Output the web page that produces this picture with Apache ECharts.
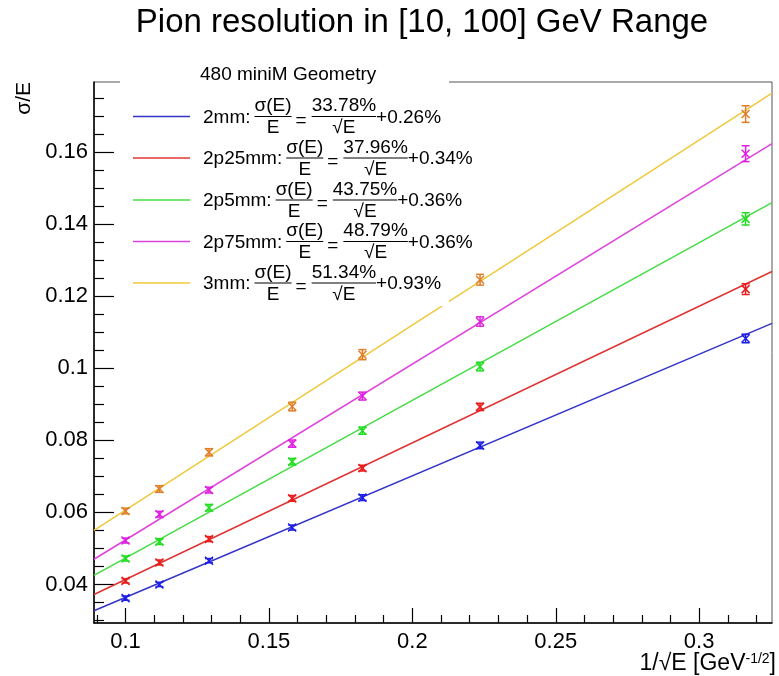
<!DOCTYPE html>
<html>
<head>
<meta charset="utf-8">
<script src="https://cdn.jsdelivr.net/npm/echarts@6/dist/echarts.min.js"></script>
<style>
html,body{margin:0;padding:0;background:#fff;}
#chart{width:779px;height:676px;}
</style>
</head>
<body>
<div id="chart"></div>
<script>
// ---------- data ----------
const xVals = [0.1, 0.1118, 0.1291, 0.1581, 0.1826, 0.2236, 0.3162];

const y2mm   = [0.0362, 0.0400, 0.0466, 0.0558, 0.0641, 0.0786, 0.1083];
const e2mm   = [0.0006, 0.0006, 0.0006, 0.0007, 0.0008, 0.0009, 0.0012];
const y2p25  = [0.0410, 0.0461, 0.0526, 0.0639, 0.0723, 0.0893, 0.1220];
const e2p25  = [0.0006, 0.0007, 0.0007, 0.0008, 0.0008, 0.0010, 0.0015];
const y2p5   = [0.0472, 0.0519, 0.0613, 0.0741, 0.0827, 0.1005, 0.1415];
const e2p5   = [0.0007, 0.0008, 0.0009, 0.0009, 0.0010, 0.0012, 0.0017];
const y2p75  = [0.0522, 0.0595, 0.0662, 0.0791, 0.0923, 0.1130, 0.1596];
const e2p75  = [0.0007, 0.0008, 0.0008, 0.0010, 0.0011, 0.0013, 0.0022];
const y3mm   = [0.0604, 0.0665, 0.0767, 0.0894, 0.1038, 0.1246, 0.1706];
const e3mm   = [0.0008, 0.0009, 0.0010, 0.0012, 0.0014, 0.0015, 0.0023];

// fit line end points
const fit2mm  = [[0.089, 0.0327], [0.3254, 0.1125]];
const fit2p25 = [[0.089, 0.0372], [0.3254, 0.1269]];
const fit2p5  = [[0.089, 0.0425], [0.3254, 0.1460]];
const fit2p75 = [[0.089, 0.0470], [0.3254, 0.1624]];
const fit3mm  = [[0.089, 0.0550], [0.3254, 0.1764]];

const seriesNames = ['2mm', '2p25mm', '2p5mm', '2p75mm', '3mm'];
const stochTerms  = ['33.78%', '37.96%', '43.75%', '48.79%', '51.34%'];
const constTerms  = ['0.26%', '0.34%', '0.36%', '0.36%', '0.93%'];

const xMajorTicks = [0.1, 0.15, 0.2, 0.25, 0.3];
const xMinorTicks = [0.09, 0.11, 0.12, 0.13, 0.14, 0.16, 0.17, 0.18, 0.19, 0.21, 0.22, 0.23, 0.24, 0.26, 0.27, 0.28, 0.29, 0.31, 0.32];
const yMajorTicks = [0.04, 0.06, 0.08, 0.1, 0.12, 0.14, 0.16];
const yMinorTicks = [0.03, 0.035, 0.045, 0.05, 0.055, 0.065, 0.07, 0.075, 0.085, 0.09, 0.095, 0.105, 0.11, 0.115, 0.125, 0.13, 0.135, 0.145, 0.15, 0.155, 0.165, 0.17, 0.175];

const xMin = 0.089, xMax = 0.3254, yMin = 0.0293, yMax = 0.1795;

// ---------- styles ----------
const FONT = '"Liberation Sans", Arial, Helvetica, sans-serif';
const lineColors   = ['#3434c8', '#e03434', '#44dd44', '#dd44dd', '#f0c83c'];
const markerColors = ['#1e1ee6', '#e81e1e', '#22dd22', '#e020e0', '#e07e2a'];

const yData = [y2mm, y2p25, y2p5, y2p75, y3mm];
const eData = [e2mm, e2p25, e2p5, e2p75, e3mm];
const fits  = [fit2mm, fit2p25, fit2p5, fit2p75, fit3mm];

const chart = echarts.init(document.getElementById('chart'), null, {renderer: 'canvas'});

const series = [];
fits.forEach((f, i) => {
  series.push({
    type: 'line', name: seriesNames[i], data: f, showSymbol: false, symbol: 'none',
    lineStyle: {color: lineColors[i], width: 1.5}, z: 2, silent: true, animation: false
  });
});
yData.forEach((ys, i) => {
  const d = ys.map((y, k) => [xVals[k], y, eData[i][k]]);
  const col = markerColors[i];
  series.push({
    type: 'custom', name: seriesNames[i] + ' pts', data: d, z: 3, silent: true, animation: false,
    encode: {x: 0, y: 1},
    renderItem: function (params, api) {
      const x = api.value(0), y = api.value(1), e = api.value(2);
      const p = api.coord([x, y]);
      const t = api.coord([x, y + e]);
      const b = api.coord([x, y - e]);
      const s = {stroke: col, lineWidth: 1.5};
      const h = 4, c = 4;
      return {
        type: 'group',
        children: [
          {type: 'line', shape: {x1: p[0], y1: t[1], x2: p[0], y2: b[1]}, style: s},
          {type: 'line', shape: {x1: p[0] - c, y1: t[1], x2: p[0] + c, y2: t[1]}, style: s},
          {type: 'line', shape: {x1: p[0] - c, y1: b[1], x2: p[0] + c, y2: b[1]}, style: s},
          {type: 'line', shape: {x1: p[0] - h, y1: p[1] - h, x2: p[0] + h, y2: p[1] + h}, style: s},
          {type: 'line', shape: {x1: p[0] - h, y1: p[1] + h, x2: p[0] + h, y2: p[1] - h}, style: s}
        ]
      };
    }
  });
});

// ---------- legend (graphic) ----------
const mctx = document.createElement('canvas').getContext('2d');
function meas(txt, size) { mctx.font = size + 'px ' + FONT; return mctx.measureText(txt).width; }

const LS = 19;
const graphic = [];
graphic.push({type: 'text', x: 422, y: 6, z: 51,
  style: {text: 'Pion resolution in [10, 100] GeV Range', font: '33px ' + FONT, fill: '#000', textAlign: 'center', textVerticalAlign: 'top'}});
graphic.push({type: 'rect', shape: {x: 120, y: 60, width: 329, height: 246}, style: {fill: '#fff'}, z: 50, silent: true});
graphic.push({type: 'text', x: 200, y: 75, z: 51, style: {text: '480 miniM Geometry', font: '19px ' + FONT, fill: '#000', textVerticalAlign: 'middle'}});
const rowY = [116.5, 158, 200, 241.5, 283];
seriesNames.forEach((nm, i) => {
  const cy = rowY[i];
  graphic.push({type: 'line', z: 51, shape: {x1: 133, y1: cy, x2: 190, y2: cy}, style: {stroke: lineColors[i], lineWidth: 1.5}});
  let x = 203;
  const lab = nm + ':';
  graphic.push({type: 'text', x: x, y: cy + 1, z: 51, style: {text: lab, font: LS + 'px ' + FONT, fill: '#000', textVerticalAlign: 'middle'}});
  x += meas(lab, LS) + 4;
  const wf = meas('σ(E)', LS);
  graphic.push({type: 'text', x: x + wf / 2, y: cy - 1, z: 51, style: {text: 'σ(E)', font: LS + 'px ' + FONT, fill: '#000', textAlign: 'center', textVerticalAlign: 'bottom'}});
  graphic.push({type: 'line', z: 51, shape: {x1: x, y1: cy, x2: x + wf, y2: cy}, style: {stroke: '#000', lineWidth: 1.2}});
  graphic.push({type: 'text', x: x + wf / 2, y: cy + 2, z: 51, style: {text: 'E', font: LS + 'px ' + FONT, fill: '#000', textAlign: 'center', textVerticalAlign: 'top'}});
  x += wf + 4;
  graphic.push({type: 'text', x: x, y: cy + 4, z: 51, style: {text: '=', font: LS + 'px ' + FONT, fill: '#000', textVerticalAlign: 'middle'}});
  x += meas('=', LS) + 5;
  const w2 = meas(stochTerms[i], LS);
  graphic.push({type: 'text', x: x + w2 / 2, y: cy - 1, z: 51, style: {text: stochTerms[i], font: LS + 'px ' + FONT, fill: '#000', textAlign: 'center', textVerticalAlign: 'bottom'}});
  graphic.push({type: 'line', z: 51, shape: {x1: x, y1: cy, x2: x + w2, y2: cy}, style: {stroke: '#000', lineWidth: 1.2}});
  graphic.push({type: 'text', x: x + w2 / 2, y: cy + 2, z: 51, style: {text: '√E', font: LS + 'px ' + FONT, fill: '#000', textAlign: 'center', textVerticalAlign: 'top'}});
  x += w2;
  graphic.push({type: 'text', x: x, y: cy + 1, z: 51, style: {text: '+' + constTerms[i], font: LS + 'px ' + FONT, fill: '#000', textVerticalAlign: 'middle'}});
});
// axis titles
graphic.push({type: 'text', x: 24, y: 82, rotation: Math.PI / 2, z: 51,
  style: {text: 'σ/E', font: '21px ' + FONT, fill: '#000', textAlign: 'right', textVerticalAlign: 'middle'}});
graphic.push({type: 'text', x: 776, y: 664, z: 51,
  style: {text: '{m|1/√E [GeV}{s|-1/2}{m|]}', textAlign: 'right', textVerticalAlign: 'middle',
    rich: {m: {fontSize: 23, fontFamily: FONT, color: '#000'},
           s: {fontSize: 14, fontFamily: FONT, color: '#000', verticalAlign: 'top', padding: [0, 0, 10, 0]}}}});

const axisBase = {
  type: 'value', splitLine: {show: false}, scale: true
};

const option = {
  animation: false,
  backgroundColor: '#fff',
  grid: {left: 94, right: 7, top: 82, bottom: 53, show: true, borderColor: '#555', borderWidth: 1},
  xAxis: [
    Object.assign({}, axisBase, {
      min: xMin, max: xMax, position: 'bottom',
      axisLine: {show: true, lineStyle: {color: '#000', width: 1.5}},
      axisTick: {show: true, inside: true, length: 15, customValues: xMajorTicks, lineStyle: {color: '#000', width: 1.2}},
      axisLabel: {show: true, customValues: xMajorTicks, fontSize: 22, margin: 8, color: '#000', fontFamily: FONT,
        formatter: v => String(+v.toFixed(3))}
    }),
    Object.assign({}, axisBase, {
      min: xMin, max: xMax, position: 'bottom',
      axisLine: {show: false},
      axisTick: {show: true, inside: true, length: 8, customValues: xMinorTicks, lineStyle: {color: '#000', width: 1.2}},
      axisLabel: {show: false}
    })
  ],
  yAxis: [
    Object.assign({}, axisBase, {
      min: yMin, max: yMax, position: 'left',
      axisLine: {show: true, lineStyle: {color: '#000', width: 1.5}},
      axisTick: {show: true, inside: true, length: 20, customValues: yMajorTicks, lineStyle: {color: '#000', width: 1.2}},
      axisLabel: {show: true, customValues: yMajorTicks, fontSize: 22, margin: 6, color: '#000', fontFamily: FONT,
        formatter: v => String(+v.toFixed(3))}
    }),
    Object.assign({}, axisBase, {
      min: yMin, max: yMax, position: 'left',
      axisLine: {show: false},
      axisTick: {show: true, inside: true, length: 10, customValues: yMinorTicks, lineStyle: {color: '#000', width: 1.2}},
      axisLabel: {show: false}
    })
  ],
  graphic: graphic,
  series: series
};

chart.setOption(option);
</script>
</body>
</html>
